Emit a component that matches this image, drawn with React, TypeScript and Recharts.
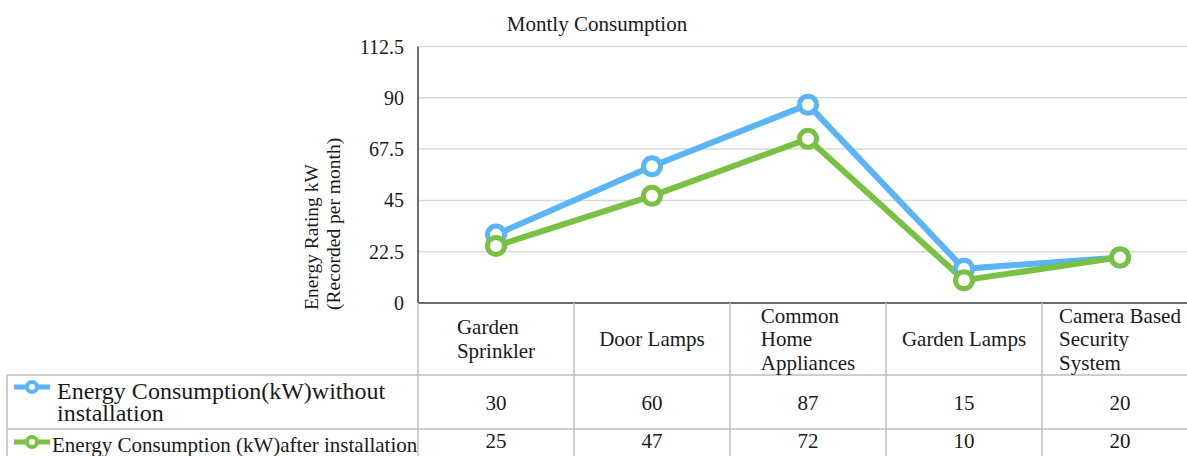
import React from "react";
import { LineChart, Line, XAxis, YAxis, CartesianGrid, Customized } from "recharts";

const categories = [
  "Garden\nSprinkler",
  "Door Lamps",
  "Common\nHome\nAppliances",
  "Garden Lamps",
  "Camera Based\nSecurity\nSystem",
];
const withoutValues = [30, 60, 87, 15, 20];
const afterValues = [25, 47, 72, 10, 20];
const seriesNames = [
  "Energy Consumption(kW)without installation",
  "Energy Consumption (kW)after installation",
];
const yTicks = [0, 22.5, 45, 67.5, 90, 112.5];
const chartTitle = "Montly Consumption";
const yLabelLines = ["Energy Rating kW", "(Recorded per month)"];

const BLUE = "#5AB4F5";
const GREEN = "#79C143";
const FONT = "'Liberation Serif', 'Times New Roman', Times, serif";
const TEXT = "#1a1a1a";
const TABLE_LINE = "#bdbdbd";

const data = categories.map((c, i) => ({
  name: c,
  without: withoutValues[i],
  after: afterValues[i],
}));

let ctx: CanvasRenderingContext2D | null = null;
function textWidth(s: string, size: number): number {
  if (!ctx) ctx = document.createElement("canvas").getContext("2d");
  if (!ctx) return s.length * size * 0.5;
  ctx.font = `${size}px "Liberation Serif"`;
  return ctx.measureText(s).width;
}

const LegendIcon = ({ y, color }: { y: number; color: string }) => (
  <g>
    <line x1={14} y1={y} x2={50} y2={y} stroke={color} strokeWidth={5} />
    <circle cx={32} cy={y} r={5} fill="#fff" stroke={color} strokeWidth={4} />
  </g>
);

const YTick = (props: any) => {
  const { x, y, payload } = props;
  return (
    <text x={x} y={y} textAnchor="end" dominantBaseline="central" fontFamily={FONT} fontSize={20} fill={TEXT}>
      {String(payload.value)}
    </text>
  );
};

const TableTick = (props: any) => {
  const { x, y, payload, width } = props;
  const n = categories.length;
  const i = payload.index;
  const half = payload.offset > 0 ? payload.offset : width / n / 2;
  const left = x - half;
  const right = x + half;
  const top = y;
  const headerH = 72;
  const rowH = 54;
  const r1 = top + headerH;
  const r2 = r1 + rowH;
  const bottom = r2 + rowH;
  const size = 21;
  const lh = 23.5;
  const lines = String(categories[i]).split("\n");
  const maxW = Math.max(...lines.map((l) => textWidth(l, size)));
  const tx = x - maxW / 2;
  const cy = top + headerH / 2;
  const firstY = cy - ((lines.length - 1) * lh) / 2;
  const tableRight = left + (n - i) * 2 * half;
  return (
    <g>
      <line x1={left} y1={top} x2={left} y2={bottom} stroke={TABLE_LINE} strokeWidth={1.5} />
      {i === n - 1 && (
        <line x1={right} y1={top} x2={right} y2={bottom} stroke={TABLE_LINE} strokeWidth={1.5} />
      )}
      {i === 0 && (
        <g>
          <line x1={7} y1={r1} x2={tableRight} y2={r1} stroke={TABLE_LINE} strokeWidth={1.5} />
          <line x1={7} y1={r2} x2={tableRight} y2={r2} stroke={TABLE_LINE} strokeWidth={1.5} />
          <line x1={7} y1={r1} x2={7} y2={bottom} stroke={TABLE_LINE} strokeWidth={1.5} />
          <LegendIcon y={r1 + 12} color={BLUE} />
          <text x={57} y={r1 + 16} dominantBaseline="central" fontFamily={FONT} fontSize={24} fill={TEXT}>
            <tspan x={57}>{"Energy Consumption(kW)without"}</tspan>
            <tspan x={57} dy={22}>{"installation"}</tspan>
          </text>
          <LegendIcon y={r2 + 13} color={GREEN} />
          <text x={52} y={r2 + 16} dominantBaseline="central" fontFamily={FONT} fontSize={21} fill={TEXT}>
            {seriesNames[1]}
          </text>
        </g>
      )}
      <text x={tx} y={firstY} dominantBaseline="central" fontFamily={FONT} fontSize={size} fill={TEXT}>
        {lines.map((l, k) => (
          <tspan key={k} x={tx} dy={k === 0 ? 0 : lh}>
            {l}
          </tspan>
        ))}
      </text>
      <text x={x} y={r1 + rowH / 2 + 1} textAnchor="middle" dominantBaseline="central" fontFamily={FONT} fontSize={21} fill={TEXT}>
        {withoutValues[i]}
      </text>
      <text x={x} y={r2 + 12} textAnchor="middle" dominantBaseline="central" fontFamily={FONT} fontSize={21} fill={TEXT}>
        {afterValues[i]}
      </text>
    </g>
  );
};

const Decorations = () => (
  <g>
    <text x={597} y={31} textAnchor="middle" fontFamily={FONT} fontSize={21} fill={TEXT}>
      {chartTitle}
    </text>
    <text
      x={318}
      y={310}
      textAnchor="start"
      transform="rotate(-90, 318, 310)"
      fontFamily={FONT}
      fontSize={19.5}
      fill={TEXT}
    >
      {yLabelLines[0]}
    </text>
    <text
      x={340}
      y={310}
      textAnchor="start"
      transform="rotate(-90, 340, 310)"
      fontFamily={FONT}
      fontSize={19.5}
      fill={TEXT}
    >
      {yLabelLines[1]}
    </text>
  </g>
);

export default function App() {
  return (
    <div
      style={{
        position: "absolute",
        left: 0,
        top: 0,
        width: 1187,
        height: 456,
        overflow: "hidden",
        background: "#fff",
        fontFamily: FONT,
      }}
    >
      <LineChart
        width={1200}
        height={483}
        data={data}
        margin={{ top: 46.5, right: 2, bottom: 0, left: 0 }}
        style={{ fontFamily: FONT }}
      >
        <CartesianGrid vertical={false} stroke="#d9d9d9" strokeWidth={1.5} />
        <XAxis
          dataKey="name"
          scale="band"
          interval={0}
          height={180}
          tickLine={false}
          tickSize={0}
          tickMargin={0}
          axisLine={{ stroke: "#6e6e6e", strokeWidth: 2 }}
          tick={<TableTick />}
        />
        <YAxis
          width={418}
          domain={[0, 112.5]}
          ticks={yTicks}
          interval={0}
          tickLine={false}
          tickSize={0}
          tickMargin={14}
          axisLine={{ stroke: "#6e6e6e", strokeWidth: 2 }}
          tick={<YTick />}
        />
        <Line
          type="linear"
          dataKey="without"
          name={seriesNames[0]}
          stroke={BLUE}
          strokeWidth={6}
          dot={{ r: 8.5, strokeWidth: 5, fill: "#fff", stroke: BLUE }}
          activeDot={false}
          isAnimationActive={false}
        />
        <Line
          type="linear"
          dataKey="after"
          name={seriesNames[1]}
          stroke={GREEN}
          strokeWidth={6}
          dot={{ r: 8.5, strokeWidth: 5, fill: "#fff", stroke: GREEN }}
          activeDot={false}
          isAnimationActive={false}
        />
        <Customized component={Decorations} />
      </LineChart>
    </div>
  );
}
